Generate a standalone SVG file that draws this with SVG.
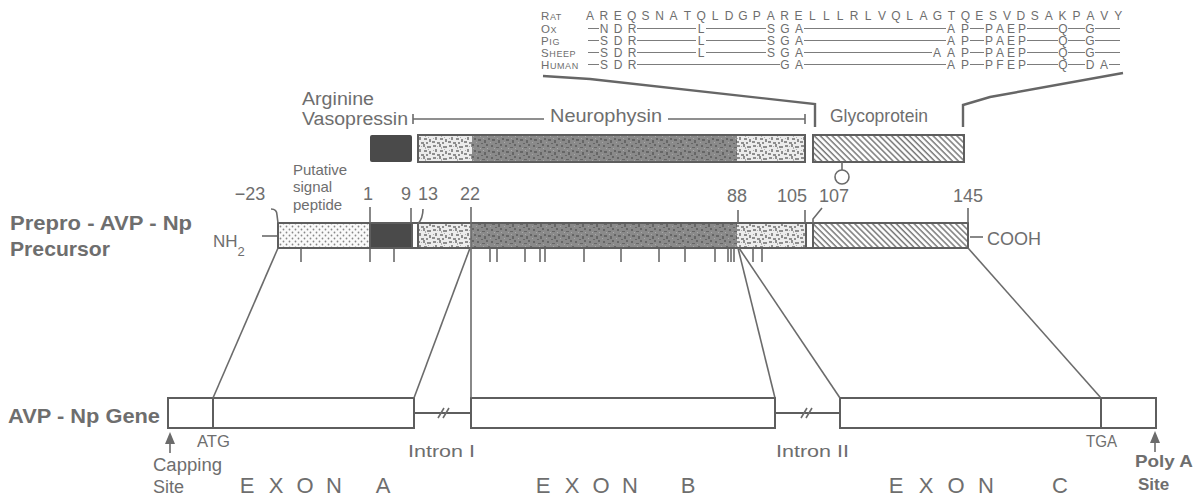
<svg xmlns="http://www.w3.org/2000/svg" width="1196" height="499" viewBox="0 0 1196 499">
<defs>
<style>
.t{font-family:"Liberation Sans",Arial,sans-serif;fill:#6e6e6e}
.b{font-weight:bold}
.ln{stroke:#6b6b6b;stroke-width:1.6;fill:none}
.thk{stroke:#666;stroke-width:2.4;fill:none}
.ol{stroke:#5e5e5e;stroke-width:2;fill:none}
.seq{font-family:"Liberation Sans Narrow","Liberation Sans",Arial,sans-serif;font-size:12px;fill:#6e6e6e;text-anchor:middle}
.lab{font-family:"Liberation Sans",Arial,sans-serif;fill:#6e6e6e;font-size:9px;letter-spacing:0.6px}
.dash{stroke:#7c7c7c;stroke-width:1}
.ex{font-family:"Liberation Sans",Arial,sans-serif;fill:#6e6e6e;font-size:22px;text-anchor:middle}
</style>
<pattern id="dots" width="6" height="6" patternUnits="userSpaceOnUse"><rect width="6" height="6" fill="#fafafa"/><circle cx="1.5" cy="1.5" r="0.9" fill="#888"/><circle cx="4.5" cy="4.5" r="0.9" fill="#888"/></pattern>
<pattern id="lt" width="16" height="12" patternUnits="userSpaceOnUse"><rect width="16" height="12" fill="#ececec"/><path d="M1 1h3v2h-3z M7 0h2v3h-2z M11 2h4v2h-4z M3 5h2v3h-2z M8 6h3v2h-3z M13 7h2v3h-2z M0 9h3v2h-3z M5 10h3v2h-3z M10 10h2v2h-2z" fill="#8e8e8e"/><path d="M5 2h1v1h-1z M12 5h1v1h-1z M1 6h1v1h-1z M9 3h1v2h-1z" fill="#b0b0b0"/></pattern>
<pattern id="dk" width="14" height="12" patternUnits="userSpaceOnUse"><rect width="14" height="12" fill="#8a8a8a"/><path d="M1 1h2v2h-2z M6 3h3v1h-3z M10 0h2v2h-2z M2 7h3v2h-3z M8 8h2v3h-2z M12 6h2v2h-2z M5 11h2v1h-2z" fill="#666"/><path d="M4 4h1v1h-1z M11 4h1v1h-1z M0 10h1v1h-1z M7 6h1v1h-1z" fill="#a8a8a8"/></pattern>
<pattern id="hatch" width="4.2" height="10" patternUnits="userSpaceOnUse" patternTransform="rotate(-45)"><rect width="4.2" height="10" fill="#fff"/><line x1="1" y1="0" x2="1" y2="10" stroke="#777" stroke-width="1.5"/></pattern>
</defs>
<rect width="1196" height="499" fill="#fff"/>

<!-- sequence comparison table -->
<g id="seq-table">
<text class="lab" x="541" y="20"><tspan font-size="11.5px">R</tspan>AT</text>
<text class="lab" x="541" y="33"><tspan font-size="11.5px">O</tspan>X</text>
<text class="lab" x="541" y="45"><tspan font-size="11.5px">P</tspan>IG</text>
<text class="lab" x="541" y="57"><tspan font-size="11.5px">S</tspan>HEEP</text>
<text class="lab" x="541" y="69"><tspan font-size="11.5px">H</tspan>UMAN</text>
<text class="seq" font-size="14px" y="20" x="590 603.9 617.8 631.7 645.6 659.5 673.4 687.3 701.2 715.1 729 742.9 756.8 770.7 784.6 798.5 812.4 826.3 840.2 854.1 868 881.9 895.8 909.7 923.6 937.5 951.4 965.3 979.2 993.1 1007 1020.9 1034.8 1048.7 1062.6 1076.5 1090.4 1104.3 1118.2">AREQSNATQLDGPARELLLRLVQLAGTQESVDSAKPAVY</text>
<text class="seq" y="33" x="604 618 632 701 771 785 799 951 965 989 1000 1011 1022 1063 1090">NDRLSGAAPPAEPQG</text>
<text class="seq" y="45" x="604 618 632 701 771 785 799 951 965 989 1000 1011 1022 1063 1090">SDRLSGAAPPAEPQG</text>
<text class="seq" y="57" x="604 618 632 701 771 785 799 937 951 965 989 1000 1011 1022 1063 1090">SDRLSGAAAPPAEPQG</text>
<text class="seq" y="69" x="604 618 632 785 799 951 965 989 1000 1011 1022 1063 1090 1104">SDRGAAPPFEPQDA</text>
<path class="dash" d="M588 28.5H599 M637 28.5H696 M706 28.5H766 M804 28.5H946 M970 28.5H984 M1027 28.5H1058 M1068 28.5H1085 M1095 28.5H1120"/>
<path class="dash" d="M588 40.5H599 M637 40.5H696 M706 40.5H766 M804 40.5H946 M970 40.5H984 M1027 40.5H1058 M1068 40.5H1085 M1095 40.5H1120"/>
<path class="dash" d="M588 52.5H599 M637 52.5H696 M706 52.5H766 M804 52.5H932 M970 52.5H984 M1027 52.5H1058 M1068 52.5H1085 M1095 52.5H1120"/>
<path class="dash" d="M588 64.5H599 M637 64.5H780 M804 64.5H946 M970 64.5H984 M1027 64.5H1058 M1068 64.5H1085 M1109 64.5H1120"/>
</g>

<!-- row labels -->
<g id="label-precursor">
<text class="t b" x="10" y="230" font-size="21" textLength="182" lengthAdjust="spacingAndGlyphs">Prepro - AVP - Np</text>
<text class="t b" x="10" y="256" font-size="21" textLength="100" lengthAdjust="spacingAndGlyphs">Precursor</text>
</g>
<g id="label-gene">
<text class="t b" x="8" y="423" font-size="21" textLength="152" lengthAdjust="spacingAndGlyphs">AVP - Np Gene</text>
</g>

<!-- mature peptides -->
<g id="avp">
<text class="t" x="302" y="105" font-size="18" textLength="72" lengthAdjust="spacingAndGlyphs">Arginine</text>
<text class="t" x="302" y="125" font-size="18" textLength="106" lengthAdjust="spacingAndGlyphs">Vasopressin</text>
<rect x="370" y="135" width="42" height="27" rx="2" fill="#4a4a4a"/>
</g>
<g id="neurophysin">
<text class="t" x="550" y="122" font-size="19" textLength="112" lengthAdjust="spacingAndGlyphs">Neurophysin</text>
<path class="ln" d="M413 119H544 M668 119H805 M413 114V124 M805 114V124"/>
<rect x="418" y="135" width="54" height="27" fill="url(#lt)"/>
<rect x="472" y="135" width="265" height="27" fill="url(#dk)"/>
<rect x="737" y="135" width="68" height="27" fill="url(#lt)"/>
<rect class="ol" x="418" y="135" width="387" height="27"/>
</g>
<g id="glycoprotein">
<text class="t" x="830" y="122" font-size="19" textLength="98" lengthAdjust="spacingAndGlyphs">Glycoprotein</text>
<rect x="813" y="135" width="151" height="27" fill="url(#hatch)"/>
<rect class="ol" x="813" y="135" width="151" height="27"/>
<path class="ln" d="M842 162V170"/>
<circle class="ln" cx="842" cy="177" r="7"/>
</g>

<!-- precursor -->
<g id="precursor">
<g class="t" font-size="18" text-anchor="middle">
<text x="250" y="200">−23</text>
<text x="368" y="200">1</text>
<text x="406" y="200">9</text>
<text x="428" y="200">13</text>
<text x="470" y="200">22</text>
<text x="737" y="202">88</text>
<text x="792" y="202">105</text>
<text x="834" y="202">107</text>
<text x="968" y="202">145</text>
</g>
<text class="t" x="293" y="175" font-size="15">Putative</text>
<text class="t" x="293" y="192" font-size="15">signal</text>
<text class="t" x="293" y="210" font-size="15">peptide</text>
<text class="t" x="213" y="247" font-size="17">NH<tspan font-size="13" dy="9">2</tspan></text>
<path class="ln" d="M262 236H277"/>
<text class="t" x="987" y="245" font-size="18">COOH</text>
<path class="ln" d="M970 237H983"/>
<rect x="278" y="223" width="92" height="25" fill="url(#dots)"/>
<rect x="370" y="223" width="42" height="25" fill="#4a4a4a"/>
<rect x="418" y="223" width="53" height="25" fill="url(#lt)"/>
<rect x="471" y="223" width="266" height="25" fill="url(#dk)"/>
<rect x="737" y="223" width="69" height="25" fill="url(#lt)"/>
<rect x="813" y="223" width="155" height="25" fill="url(#hatch)"/>
<rect class="ol" x="278" y="223" width="690" height="25"/>
<path class="ol" d="M370 223V248 M412 223V248 M418 223V248 M806 223V248 M813 223V248"/>
<path class="ln" d="M271 209Q277 209 277 215L278 223 M370 207V223 M411 208V223 M423 209Q423 218 418 224 M738 210V223 M805 210V223 M822 208L813 219V223 M968 208V223"/>
<path class="ln" d="M301 249V262 M370 249V262 M394 249V262 M490 249V262 M497 249V262 M525 249V262 M540 249V262 M545 249V262 M584 249V262 M621 249V262 M659 249V262 M685 249V262 M715 249V262 M728 249V262 M731 249V262 M734 249V262 M753 249V262 M762 249V262"/>
</g>

<!-- gene -->
<g id="exon-a">
<rect class="ol" x="168" y="398" width="246" height="30"/>
<path class="ol" d="M213 398V428"/>
<text class="t" x="197" y="447" font-size="16" textLength="33" lengthAdjust="spacingAndGlyphs">ATG</text>
<path d="M170 432L165 444H175Z" fill="#6b6b6b"/>
<path class="ln" d="M170 440V453" stroke-width="2.6"/>
<text class="t" x="153" y="471" font-size="18" textLength="69" lengthAdjust="spacingAndGlyphs">Capping</text>
<text class="t" x="153" y="493" font-size="18">Site</text>
<text class="ex" y="493"><tspan x="247">E</tspan><tspan x="276">X</tspan><tspan x="305">O</tspan><tspan x="334">N</tspan><tspan x="383">A</tspan></text>
</g>
<g id="intron-1">
<path class="ol" d="M414 413H471"/>
<path class="ln" d="M438 418L444 408 M443 418L449 408"/>
<text class="t" x="408" y="457" font-size="17" textLength="67" lengthAdjust="spacingAndGlyphs">Intron I</text>
</g>
<g id="exon-b">
<rect class="ol" x="471" y="398" width="304" height="30"/>
<text class="ex" y="493"><tspan x="543">E</tspan><tspan x="572">X</tspan><tspan x="601">O</tspan><tspan x="630">N</tspan><tspan x="688">B</tspan></text>
</g>
<g id="intron-2">
<path class="ol" d="M775 413H840"/>
<path class="ln" d="M801 418L807 408 M806 418L812 408"/>
<text class="t" x="776" y="457" font-size="17" textLength="73" lengthAdjust="spacingAndGlyphs">Intron II</text>
</g>
<g id="exon-c">
<rect class="ol" x="840" y="398" width="316" height="30"/>
<path class="ol" d="M1101 398V428"/>
<text class="t" x="1086" y="447" font-size="16" textLength="31" lengthAdjust="spacingAndGlyphs">TGA</text>
<path d="M1155 431L1150 443H1160Z" fill="#6b6b6b"/>
<path class="ln" d="M1155 439V452" stroke-width="2.6"/>
<text class="t b" x="1135" y="467" font-size="17" textLength="58" lengthAdjust="spacingAndGlyphs">Poly A</text>
<text class="t b" x="1138" y="490" font-size="17">Site</text>
<text class="ex" y="493"><tspan x="896">E</tspan><tspan x="926">X</tspan><tspan x="956">O</tspan><tspan x="986">N</tspan><tspan x="1060">C</tspan></text>
</g>

<!-- connectors -->
<g id="connectors">
<path class="thk" d="M543 76L590 79L815 104V127"/>
<path class="thk" d="M1123 73L990 97L963 105V127"/>
<path class="ln" d="M278 248L213 398"/>
<path class="ln" d="M470 248L414 398"/>
<path class="ln" d="M471 207V398"/>
<path class="ln" d="M738 248L775 398"/>
<path class="ln" d="M739 248L840 398"/>
<path class="ln" d="M968 248L1101 398"/>
</g>
</svg>
